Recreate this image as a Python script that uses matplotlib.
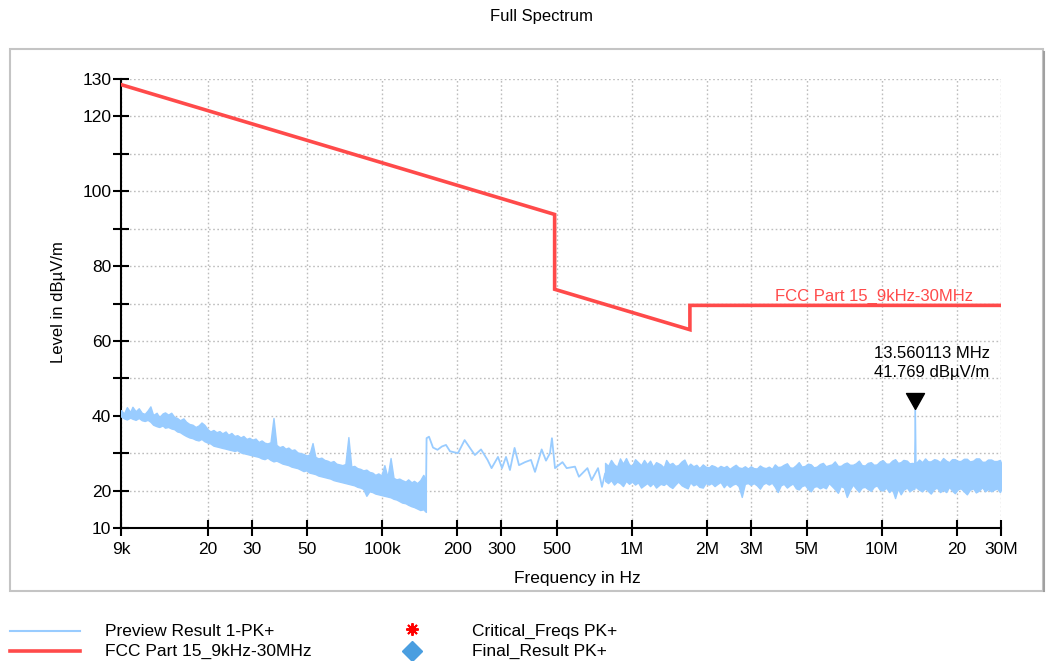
import matplotlib
matplotlib.use('Agg')
import matplotlib.pyplot as plt
from matplotlib.lines import Line2D
from matplotlib.patches import Rectangle
from matplotlib.ticker import FixedLocator, NullLocator, FixedFormatter

plt.rcParams['font.family'] = ['Liberation Sans', 'DejaVu Sans']

# ---------------- data ----------------
limit_freq_hz = [9e3, 490e3, 490e3, 1.705e6, 1.705e6, 30e6]
limit_level = [128.5, 93.8, 73.8, 63.0, 69.5, 69.5]

# 9 kHz - 150 kHz: dense preview trace, per display bin max / min (dBuV/m)
lf_freq_khz = [
    9.0, 9.25, 9.5, 9.8, 10.0, 10.3, 10.6, 10.9, 11.2, 11.5, 11.8, 12.1, 12.5, 12.8, 13.2, 13.5,
    13.9, 14.3, 14.7, 15.1, 15.5, 16.0, 16.4, 16.9, 17.4, 17.9, 18.4, 18.9, 19.4, 20.0, 20.5, 21.1,
    21.7, 22.3, 22.9, 23.6, 24.2, 24.9, 25.6, 26.3, 27.1, 27.8, 28.6, 29.4, 30.2, 31.1, 32.0, 32.9,
    33.8, 34.7, 35.7, 36.7, 37.7, 38.8, 39.9, 41.0, 42.1, 43.3, 44.5, 45.8, 47.1, 48.4, 49.7, 51.1,
    52.6, 54.0, 55.5, 57.1, 58.7, 60.3, 62.0, 63.8, 65.5, 67.4, 69.3, 71.2, 73.2, 75.2, 77.3, 79.5,
    81.7, 84.0, 86.4, 88.8, 91.3, 93.8, 96.5, 99.2, 102, 105, 108, 111, 114, 117, 120, 124,
    127, 131, 134, 138, 142, 146, 149.5,
]
lf_max = [
    41.5, 40.6, 42.3, 41.0, 42.4, 41.2, 42.0, 40.8, 40.5, 41.4, 42.5, 40.2, 40.8, 39.6, 40.6, 40.9,
    40.3, 40.8, 39.7, 39.4, 38.8, 39.3, 38.4, 37.8, 37.6, 37.0, 37.4, 38.2, 37.6, 36.4, 35.8, 36.2,
    35.6, 35.9, 35.3, 35.8, 34.9, 35.4, 34.6, 34.8, 34.2, 34.6, 33.8, 34.1, 33.6, 33.9, 33.0, 33.4,
    32.8, 32.6, 32.9, 39.4, 32.2, 31.6, 31.9, 31.2, 31.5, 30.8, 31.0, 30.2, 30.0, 29.8, 29.4, 29.6,
    32.7, 29.0, 28.6, 28.8, 28.2, 28.0, 27.6, 27.9, 27.2, 27.0, 26.8, 27.1, 34.3, 26.4, 26.6, 26.0,
    25.8, 25.4, 25.6, 25.0, 24.8, 24.2, 24.6, 24.0, 26.8, 23.6, 28.7, 23.4, 23.0, 23.2, 22.8, 22.4,
    23.0, 22.2, 22.6, 22.0, 22.8, 24.2, 23.0,
]
lf_min = [
    39.8, 39.3, 39.0, 39.5, 39.2, 38.9, 39.4, 38.8, 38.6, 38.9, 38.4, 37.6, 37.2, 37.0, 37.4, 36.8,
    37.0, 36.6, 36.4, 35.8, 35.6, 35.0, 34.6, 34.2, 34.0, 33.6, 33.4, 33.8, 33.2, 32.8, 32.6, 32.0,
    31.8, 31.6, 31.4, 31.2, 31.0, 30.8, 30.6, 30.8, 30.2, 30.0, 29.8, 29.6, 29.4, 29.2, 29.0, 28.6,
    28.4, 28.8, 28.2, 27.8, 28.0, 27.6, 27.2, 27.0, 26.8, 26.4, 26.2, 26.0, 25.6, 25.2, 25.4, 24.8,
    24.6, 24.4, 24.0, 23.8, 23.6, 23.4, 23.2, 22.8, 22.6, 22.4, 22.2, 22.0, 21.8, 21.6, 21.4, 21.0,
    20.8, 20.4, 18.6, 19.8, 19.6, 19.2, 19.0, 18.8, 18.6, 18.4, 18.2, 17.8, 17.6, 17.2, 16.8, 16.6,
    16.2, 15.8, 15.6, 15.2, 14.8, 15.0, 14.3,
]

# 150 kHz - 780 kHz: single preview trace
mid_freq_khz = [
    149.5, 150.5, 153.9, 159.7, 166.4, 173.5, 180, 186.8, 201, 213.7, 226.6, 235, 248.6, 264, 274,
    290.7, 301.6, 313, 324.6, 338.7, 352.8, 372.9, 394, 408.9, 434.8, 452.5, 469.5, 478, 491.7,
    526.8, 547.6, 591, 613, 663, 689, 731, 758, 780,
]
mid_level = [
    15.5, 34.0, 34.4, 31.5, 30.9, 31.8, 32.2, 30.5, 30.0, 33.5, 31.0, 29.5, 31.0, 28.2, 26.0,
    29.0, 26.0, 29.0, 25.5, 31.4, 26.8, 27.6, 28.2, 25.0, 31.0, 28.0, 30.0, 34.0, 26.0,
    27.6, 26.0, 26.4, 23.7, 26.0, 22.8, 26.0, 21.0, 24.5,
]

# 780 kHz - 30 MHz: dense preview trace, per display bin max / min
hf_freq_khz = [
    780, 802, 824, 847, 871, 895, 920, 946, 973, 1000, 1028, 1057, 1087, 1117, 1149, 1181, 1214, 1248,
    1300, 1340, 1370, 1410, 1450, 1490, 1530, 1580, 1620, 1670, 1710, 1760, 1810, 1860, 1920, 1970,
    2030, 2080, 2140, 2200, 2260, 2330, 2390, 2460, 2530, 2600, 2670, 2750, 2830, 2910, 2990, 3070,
    3160, 3250, 3340, 3430, 3530, 3630, 3730, 3830, 3940, 4050, 4170, 4280, 4400, 4530, 4650, 4780,
    4920, 5060, 5200, 5340, 5490, 5650, 5810, 5970, 6140, 6310, 6480, 6670, 6850, 7050, 7240, 7450,
    7660, 7870, 8090, 8320, 8550, 8790, 9040, 9290, 9550, 9820, 10100, 10400, 10700, 11000, 11300,
    11600, 11900, 12200, 12600, 12900, 13300, 13480, 13560.113, 13640, 14100, 14500, 14900, 15300,
    15700, 16200, 16600, 17100, 17600, 18100, 18600, 19100, 19600, 20200, 20700, 21300, 21900,
    22500, 23200, 23800, 24500, 25200, 25900, 26600, 27400, 28100, 28900, 29700, 30000,
]
hf_max = [
    27.4, 26.6, 28.2, 27.0, 26.4, 28.6, 27.2, 28.7, 27.0, 26.6, 28.4, 27.6, 26.8, 28.2, 27.0, 28.0, 26.4, 27.6,
    27.0, 26.2, 28.2, 27.0, 27.4, 26.6, 26.8, 27.8, 28.3, 26.4, 27.2, 26.5, 26.9, 26.0, 27.0, 26.4,
    26.2, 26.8, 26.5, 26.0, 26.6, 26.2, 26.6, 25.8, 26.4, 26.9, 26.2, 26.0, 26.5, 25.9, 26.5, 26.0,
    25.9, 26.7, 26.2, 26.0, 26.4, 25.8, 27.0, 26.3, 26.4, 26.9, 27.3, 26.2, 26.1, 26.8, 27.6, 26.4,
    26.6, 27.2, 27.0, 26.2, 26.4, 27.1, 27.4, 26.5, 26.8, 27.0, 27.8, 26.6, 26.6, 27.2, 27.5, 26.9,
    26.9, 27.3, 28.0, 26.8, 26.7, 27.4, 27.6, 26.9, 27.0, 27.8, 28.1, 27.2, 27.2, 28.0, 28.4,
    27.4, 27.6, 28.2, 28.0, 27.3, 27.4, 27.0, 41.769, 27.2, 28.3, 27.6, 28.6, 27.8,
    27.8, 28.4, 28.2, 27.6, 28.7, 28.0, 27.6, 28.4, 28.4, 27.9, 27.9, 28.5, 28.5,
    27.8, 28.0, 28.6, 28.6, 27.7, 27.7, 28.3, 28.3, 27.9, 27.9, 28.2, 27.4,
]
hf_min = [
    22.6, 22.0, 22.8, 21.6, 22.4, 22.0, 21.2, 22.6, 21.8, 22.4, 21.6, 22.2, 20.8, 21.4, 22.0, 21.2, 22.0, 20.8,
    21.8, 21.5, 22.0, 21.2, 20.7, 21.6, 22.4, 21.4, 21.0, 20.6, 22.2, 21.4, 21.8, 21.0, 20.8, 22.0,
    21.6, 22.0, 21.2, 21.8, 22.3, 20.9, 21.8, 21.0, 21.6, 21.9, 21.2, 18.3, 21.8, 22.0, 21.5, 22.0,
    21.4, 20.5, 21.7, 22.1, 21.6, 22.1, 21.0, 19.6, 21.4, 21.8, 20.8, 21.4, 21.9, 20.6, 20.3, 21.2,
    21.5, 20.4, 19.8, 21.0, 21.2, 20.6, 21.0, 20.6, 22.0, 21.2, 20.4, 19.4, 21.2, 20.8, 18.3, 20.2,
    21.6, 20.6, 19.7, 20.8, 21.0, 20.4, 19.9, 21.0, 21.4, 20.2, 20.0, 20.8, 19.6, 20.4, 18.0,
    20.6, 19.0, 20.2, 20.8, 19.8, 20.4, 20.4, 21.0, 21.0, 20.2, 19.8, 20.6, 19.9,
    19.2, 20.4, 20.8, 19.6, 20.2, 19.6, 21.0, 20.0, 19.3, 20.4, 20.6, 19.8, 19.0,
    20.2, 20.6, 19.5, 20.0, 20.9, 19.8, 20.4, 19.8, 20.2, 20.6, 19.6, 20.2,
]

peak_freq_hz = 13.560113e6
peak_level = 41.769

x_ticks = [9e3, 20e3, 30e3, 50e3, 100e3, 200e3, 300e3, 500e3, 1e6, 2e6, 3e6, 5e6, 10e6, 20e6, 30e6]
x_tick_labels = ['9k', '20', '30', '50', '100k', '200', '300', '500', '1M', '2M', '3M', '5M', '10M', '20', '30M']
y_ticks = [10, 20, 30, 40, 50, 60, 70, 80, 90, 100, 110, 120, 130]
y_tick_labels = ['10', '20', '', '40', '', '60', '', '80', '', '100', '', '120', '130']

preview_color = '#99ccff'
limit_color = '#ff4a4a'

# ---------------- figure ----------------
W, H = 1060, 661
fig = plt.figure(figsize=(W / 100, H / 100), dpi=100)

def fx(px):
    return px / W

def fy(py):
    return 1 - py / H

# outer frame
fig.add_artist(Rectangle((fx(10), fy(591)), fx(1043) - fx(10), fy(49) - fy(591),
                         transform=fig.transFigure, fill=False, edgecolor='#c4c4c4', lw=1.5))
fig.add_artist(Line2D([fx(1044), fx(1044)], [fy(52), fy(591)], transform=fig.transFigure,
                      color='#a0a0a0', lw=1.5))

ax = fig.add_axes([fx(121), fy(528), fx(1001) - fx(121), fy(79) - fy(528)])
ax.set_xscale('log')
ax.set_xlim(9e3, 30e6)
ax.set_ylim(10, 130)

def khz(lst):
    return [f * 1e3 for f in lst]

ax.fill_between(khz(lf_freq_khz), lf_min, lf_max, facecolor=preview_color,
                edgecolor=preview_color, lw=1.0, zorder=3)
ax.plot(khz(mid_freq_khz), mid_level, color=preview_color, lw=1.3, zorder=3)
ax.fill_between(khz(hf_freq_khz), hf_min, hf_max, facecolor=preview_color,
                edgecolor=preview_color, lw=1.0, zorder=3)
ax.plot(limit_freq_hz, limit_level, color=limit_color, lw=2.6, zorder=4, solid_joinstyle='miter')

# peak marker (apex at the peak)
ax.plot([peak_freq_hz], [peak_level], linestyle='none', color='black',
        marker=[(0, 0), (-9, 16), (9, 16), (0, 0)], markersize=23, zorder=5)
ax.annotate('13.560113 MHz\n41.769 dBµV/m', xy=(peak_freq_hz, peak_level),
            xytext=(12, 33), textcoords='offset points', ha='center', va='center',
            fontsize=12, linespacing=1.3, color='black')

# limit label
ax.annotate('FCC Part 15_9kHz-30MHz', xy=(3.72e6, 69.5), xytext=(0, 1), textcoords='offset points',
            ha='left', va='bottom', color=limit_color, fontsize=12, zorder=2,
            annotation_clip=False)

# axes styling
for s in ['top', 'right']:
    ax.spines[s].set_visible(False)
for s in ['left', 'bottom']:
    ax.spines[s].set_linewidth(1.5)
    ax.spines[s].set_color('black')

ax.xaxis.set_major_locator(FixedLocator(x_ticks))
ax.xaxis.set_major_formatter(FixedFormatter(x_tick_labels))
ax.xaxis.set_minor_locator(NullLocator())
ax.yaxis.set_major_locator(FixedLocator(y_ticks))
ax.yaxis.set_major_formatter(FixedFormatter(y_tick_labels))
ax.tick_params(axis='both', direction='inout', length=12, width=1.5, labelsize=12.5, color='black')
ax.tick_params(axis='x', pad=4)
ax.tick_params(axis='y', pad=1)
ax.grid(True, which='major', linestyle=(0, (1.2, 1.8)), color='#bdbdbd', lw=1.0, zorder=0)
ax.set_axisbelow(True)

# titles / labels
fig.text(fx(541), fy(16), 'Full Spectrum', ha='center', va='center', fontsize=12)
fig.text(fx(577), fy(579), 'Frequency in Hz', ha='center', va='center', fontsize=12.5)
fig.text(fx(58), fy(302), 'Level in dBµV/m', ha='center', va='center', rotation=90, fontsize=12)

# legend (drawn in figure coordinates)
fig.add_artist(Line2D([fx(10), fx(80)], [fy(631), fy(631)], transform=fig.transFigure,
                      color=preview_color, lw=1.5))
fig.add_artist(Line2D([fx(10), fx(80)], [fy(651), fy(651)], transform=fig.transFigure,
                      color=limit_color, lw=2.6))
fig.add_artist(Line2D([fx(412)], [fy(629)], transform=fig.transFigure, linestyle='none',
                      marker=(8, 2, 0), markersize=9, markeredgewidth=1.4, color='#ff0000'))
fig.add_artist(Line2D([fx(412)], [fy(651)], transform=fig.transFigure, linestyle='none',
                      marker='D', markersize=10, color='#4a9ee0'))
fig.text(fx(105), fy(631), 'Preview Result 1-PK+', ha='left', va='center', fontsize=12.5)
fig.text(fx(105), fy(651), 'FCC Part 15_9kHz-30MHz', ha='left', va='center', fontsize=12.5)
fig.text(fx(472), fy(631), 'Critical_Freqs PK+', ha='left', va='center', fontsize=12.5)
fig.text(fx(472), fy(651), 'Final_Result PK+', ha='left', va='center', fontsize=12.5)

fig.savefig('out.png', dpi=100)
